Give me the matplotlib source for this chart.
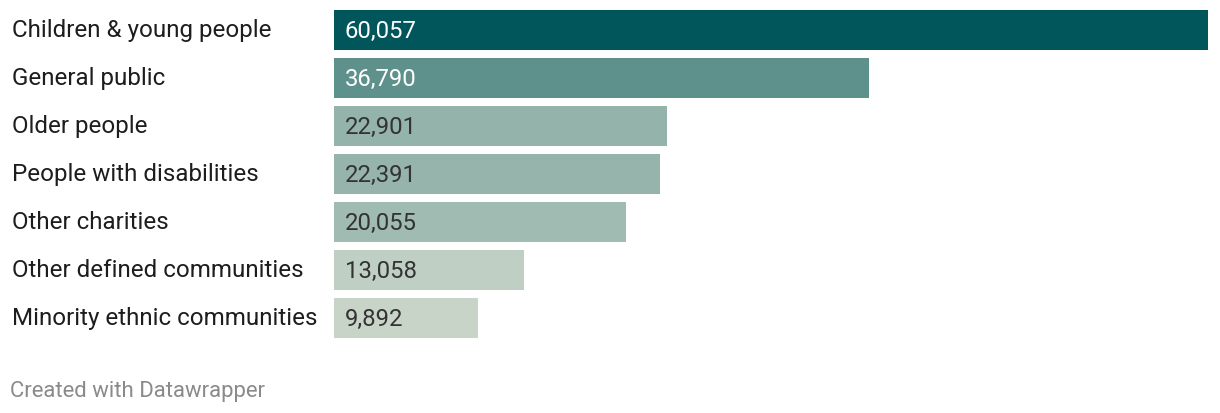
import matplotlib
matplotlib.use("Agg")
import matplotlib.pyplot as plt
import matplotlib.transforms as mtransforms

categories = ["Children & young people", "General public", "Older people",
              "People with disabilities", "Other charities",
              "Other defined communities", "Minority ethnic communities"]
values = [60057, 36790, 22901, 22391, 20055, 13058, 9892]
colors = ["#00565a", "#5e918b", "#94b3ab", "#96b4ac", "#a0bbb2", "#c0cfc3", "#c9d4c8"]
label_colors = ["white", "white", "#333333", "#333333", "#333333", "#333333", "#333333"]

plt.rcParams['font.family'] = ['Roboto', 'DejaVu Sans']

W, H = 1220, 414
fig = plt.figure(figsize=(W / 100, H / 100), dpi=100)
ax = fig.add_axes([334 / W, (H - 339) / H, (1208 - 334) / W, 328 / H])

n = len(categories)
bh = 40 / 48
pos = list(range(n))
ax.barh(pos, values, height=bh, color=colors, edgecolor="none")
ax.set_xlim(0, max(values))
ax.set_ylim(n - 1 + bh / 2, -bh / 2)
ax.axis("off")

val_tr = ax.get_yaxis_transform() + mtransforms.ScaledTranslation(11 / 100, 0, fig.dpi_scale_trans)
cat_tr = mtransforms.blended_transform_factory(fig.transFigure, ax.transData)

for i, (c, v) in enumerate(zip(categories, values)):
    ax.text(0, i, f"{v:,}", transform=val_tr, ha="left", va="center",
            fontsize=17.2, color=label_colors[i])
    ax.text(12 / W, i, c, transform=cat_tr, ha="left", va="center",
            fontsize=17.4, color="#1d1d1d", clip_on=False)

fig.text(10 / W, 1 - 392 / H, "Created with Datawrapper", ha="left", va="center",
         fontsize=15.9, color="#8a8a8a")

fig.savefig("out.png", dpi=100, facecolor="white")
